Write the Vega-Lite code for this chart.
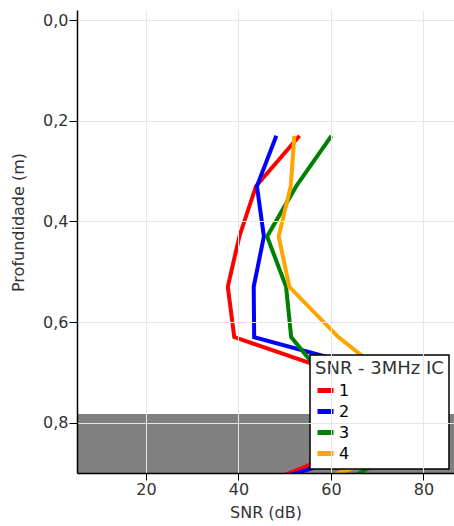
{
  "$schema": "https://vega.github.io/schema/vega-lite/v6.json",
  "autosize": "none",
  "padding": {"left": 77, "top": 10, "right": 0, "bottom": 53},
  "width": 377,
  "height": 463,
  "config": {
    "locale": {"number": {"decimal": ",", "thousands": ".", "grouping": [3], "currency": ["", ""]}},
    "view": {"stroke": null},
    "font": "DejaVu Sans",
    "legend": {"strokeWidth": 1.5}
  },
  "datasets": {
    "band": [{"top": 0.783, "bottom": 0.95}],
    "snr": [
      {"serie": "1", "depth": 0.23, "snr": 53.2},
      {"serie": "1", "depth": 0.33, "snr": 43.8},
      {"serie": "1", "depth": 0.43, "snr": 40.2},
      {"serie": "1", "depth": 0.53, "snr": 37.7},
      {"serie": "1", "depth": 0.63, "snr": 39.1},
      {"serie": "1", "depth": 0.73, "snr": 70.8},
      {"serie": "1", "depth": 0.83, "snr": 70.1},
      {"serie": "1", "depth": 0.93, "snr": 42.9},
      {"serie": "2", "depth": 0.23, "snr": 48.2},
      {"serie": "2", "depth": 0.33, "snr": 44.0},
      {"serie": "2", "depth": 0.43, "snr": 45.5},
      {"serie": "2", "depth": 0.53, "snr": 43.3},
      {"serie": "2", "depth": 0.63, "snr": 43.4},
      {"serie": "2", "depth": 0.73, "snr": 83.5},
      {"serie": "2", "depth": 0.83, "snr": 77.1},
      {"serie": "2", "depth": 0.93, "snr": 42.2},
      {"serie": "3", "depth": 0.23, "snr": 60.1},
      {"serie": "3", "depth": 0.33, "snr": 52.5},
      {"serie": "3", "depth": 0.43, "snr": 46.2},
      {"serie": "3", "depth": 0.53, "snr": 50.3},
      {"serie": "3", "depth": 0.63, "snr": 51.4},
      {"serie": "3", "depth": 0.73, "snr": 60.3},
      {"serie": "3", "depth": 0.83, "snr": 79.5},
      {"serie": "3", "depth": 0.93, "snr": 60.6},
      {"serie": "4", "depth": 0.23, "snr": 52.1},
      {"serie": "4", "depth": 0.33, "snr": 51.3},
      {"serie": "4", "depth": 0.43, "snr": 48.7},
      {"serie": "4", "depth": 0.53, "snr": 51.0},
      {"serie": "4", "depth": 0.63, "snr": 61.6},
      {"serie": "4", "depth": 0.73, "snr": 75.3},
      {"serie": "4", "depth": 0.83, "snr": 83.5},
      {"serie": "4", "depth": 0.93, "snr": 52.4}
    ]
  },
  "layer": [
    {
      "data": {"name": "band"},
      "mark": {"type": "rect", "color": "#808080", "clip": true},
      "encoding": {
        "y": {"field": "top", "type": "quantitative", "scale": {"domain": [-0.02, 0.9], "reverse": true, "nice": false, "zero": false}},
        "y2": {"field": "bottom"}
      }
    },
    {
      "data": {"name": "snr"},
      "mark": {"type": "line", "strokeWidth": 4, "clip": true},
      "encoding": {
        "x": {
          "field": "snr", "type": "quantitative",
          "scale": {"domain": [5.1, 86.6], "nice": false, "zero": false},
          "axis": {
            "title": "SNR (dB)", "values": [20, 40, 60, 80], "zindex": 1,
            "grid": true, "gridColor": "#e6e6e6", "gridWidth": 1,
            "domainColor": "#000000", "domainWidth": 1.5, "tickColor": "#000000", "tickSize": 7,
            "labelFont": "DejaVu Sans", "labelFontSize": 16, "labelColor": "#333333", "labelPadding": 1,
            "titleFont": "DejaVu Sans", "titleFontSize": 16, "titleFontWeight": "normal", "titleColor": "#333333",
            "titleBaseline": "middle", "titleY": 39
          }
        },
        "y": {
          "field": "depth", "type": "quantitative",
          "scale": {"domain": [-0.02, 0.9], "reverse": true, "nice": false, "zero": false},
          "axis": {
            "title": "Profundidade (m)", "values": [0, 0.2, 0.4, 0.6, 0.8], "format": ".1f", "zindex": 1,
            "grid": true, "gridColor": "#e6e6e6", "gridWidth": 1,
            "domainColor": "#000000", "domainWidth": 1.5, "tickColor": "#000000", "tickSize": 8,
            "labelFont": "DejaVu Sans", "labelFontSize": 16, "labelColor": "#333333", "labelPadding": 1,
            "titleFont": "DejaVu Sans", "titleFontSize": 16, "titleFontWeight": "normal", "titleColor": "#333333",
            "titleBaseline": "middle", "titleAngle": -90, "titleX": -59, "titleY": 212
          }
        },
        "color": {
          "field": "serie", "type": "nominal",
          "scale": {"domain": ["1", "2", "3", "4"], "range": ["#ff0000", "#0000ff", "#008000", "#ffa500"]},
          "legend": {
            "title": "SNR - 3MHz IC", "orient": "none", "legendX": 233, "legendY": 345,
            "fillColor": "#ffffff", "strokeColor": "#000000", "padding": 5,
            "titleFont": "DejaVu Sans", "titleFontSize": 18, "titleFontWeight": "normal", "titleColor": "#333333", "titlePadding": 2,
            "labelFont": "DejaVu Sans", "labelFontSize": 16, "labelColor": "#000000", "labelOffset": 3,
            "symbolType": "stroke", "symbolStrokeWidth": 5, "symbolSize": 256, "rowPadding": 0
          }
        },
        "order": {"field": "depth", "type": "quantitative"}
      }
    }
  ]
}
